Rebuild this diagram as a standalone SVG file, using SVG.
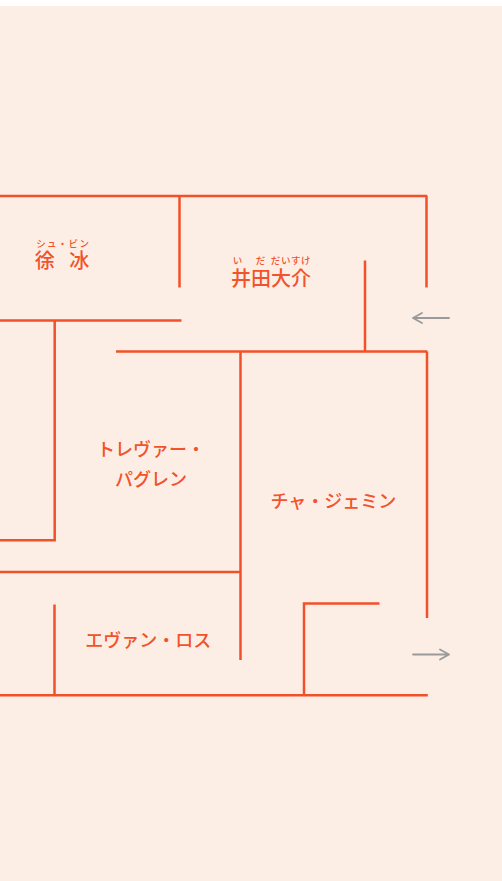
<svg xmlns="http://www.w3.org/2000/svg" width="502" height="881" viewBox="0 0 502 881">
<style>
.wall{fill:none;stroke:#F2502A;stroke-width:2.5;stroke-linecap:butt;stroke-linejoin:miter}
.arr{fill:none;stroke:#9A9A9A;stroke-width:1.8;stroke-linecap:round;stroke-linejoin:round}
.name{font-family:"Noto Sans CJK JP","Noto Sans",sans-serif;font-weight:500;fill:#F2522C;text-anchor:middle}
.main{font-size:20px}
.kana{font-size:18px}
.ruby{font-size:9.5px;font-weight:500}
</style>
<rect x="0" y="0" width="502" height="881" fill="#FFFFFF"/>
<rect x="0" y="6" width="502" height="875" fill="#FCEEE5"/>
<g id="connectors">
<path class="wall" d="M0 196 H427.3 M179.5 196 V287.5 M426.5 196 V287.5"/>
<path class="wall" d="M0 320.5 H181.5 M54.7 320.5 V540.3 H0"/>
<path class="wall" d="M365 260.5 V351.5 M116 351.5 H427.3 M240.5 351.5 V660 M427 351.5 V618"/>
<path class="wall" d="M0 572 H240.5"/>
<path class="wall" d="M54.5 604.5 V695.3 M0 695.3 H427.8 M304 695.3 V603.5 H379.5"/>
<path class="arr" d="M449 318 H413 M422 313 L413 318 L422 323"/>
<path class="arr" d="M413 654.5 H449 M440 649.5 L449 654.5 L440 659.5"/>
</g>
<g id="node-xubing">
<text class="name ruby" x="63.2" y="246.5" letter-spacing="1.3">シュ・ビン</text>
<text class="name main" x="44.7" y="268">徐</text>
<text class="name main" x="79.2" y="268">冰</text>
</g>
<g id="node-ida">
<text class="name ruby" x="237.5" y="263.5">い</text>
<text class="name ruby" x="260.5" y="263.5">だ</text>
<text class="name ruby" x="291" y="263.5" letter-spacing="0.6">だいすけ</text>
<text class="name main" x="271" y="285.5">井田大介</text>
</g>
<g id="node-trevor">
<text class="name kana" x="151" y="455.5">トレヴァー・</text>
<text class="name kana" x="151" y="485.5">パグレン</text>
</g>
<g id="node-cha">
<text class="name kana" x="333.3" y="508">チャ・ジェミン</text>
</g>
<g id="node-evan">
<text class="name kana" x="148.3" y="646.5">エヴァン・ロス</text>
</g>
</svg>
